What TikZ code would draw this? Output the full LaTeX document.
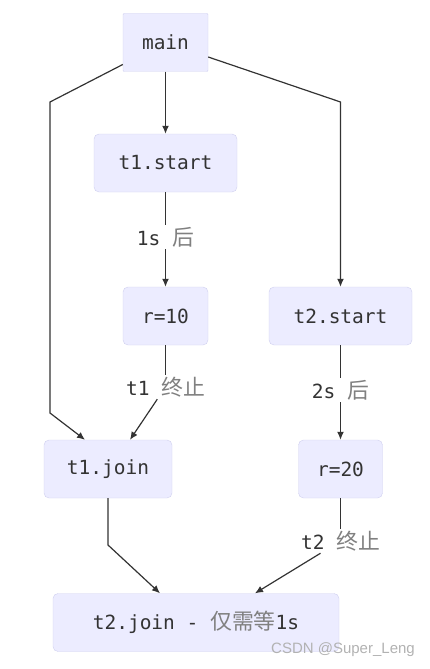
\documentclass[tikz,border=0pt]{standalone}
\usepackage{fontspec}
\setmonofont{DejaVu Sans Mono}
\newfontfamily\cjk[Scale=1.12]{Noto Sans CJK SC}
\newfontfamily\wmfont{Liberation Sans}
\usepackage{tikz}
\usetikzlibrary{positioning}
\usetikzlibrary{arrows.meta}
\usepackage{xcolor}
\definecolor{boxfill}{HTML}{ECECFF}
\definecolor{boxline}{HTML}{CFCFEF}
\definecolor{ink}{HTML}{333333}
\definecolor{zhgray}{HTML}{808080}
\newcommand{\zh}[1]{{\cjk\color{zhgray}#1}}

\begin{document}
\begin{tikzpicture}[
    x=1pt, y=-1pt,
    font=\ttfamily\fontsize{19.5}{23}\selectfont,
    box/.style={rectangle, draw=boxline, fill=boxfill, rounded corners=5pt, text=ink, minimum height=58pt},
    lbl/.style={fill=white, text=ink, inner sep=2pt},
    arrow/.style={-{Latex[length=8pt,width=7pt]}, draw=ink, line width=1.2pt},
    link/.style={draw=ink, line width=1.2pt}
]
    \useasboundingbox (0,0) rectangle (430,669);

    % Nodes
    \node[box, rounded corners=1pt, minimum width=85pt] (main) at (165.5,42.5) {main};
    \node[box, minimum width=143pt] (t1start) at (165.5,163) {t1.start};
    \node[box, minimum width=85pt] (r10) at (165.5,316) {r=10};
    \node[box, minimum width=143pt] (t2start) at (340.5,316) {t2.start};
    \node[box, minimum width=128pt] (t1join) at (108,469) {t1.join};
    \node[box, minimum width=84pt] (r20) at (340.5,469) {r=20};
    \node[box, minimum width=286pt] (t2join) at (196,622.5) {t2.join - \zh{仅需等}1s};

    % Edge labels
    \node[lbl] (l1s) at (165.5,237) {1s \zh{后}};
    \node[lbl] (lt1) at (165.5,387) {t1 \zh{终止}};
    \node[lbl] (l2s) at (340.5,390) {2s \zh{后}};
    \node[lbl] (lt2) at (340.5,541) {t2 \zh{终止}};

    % Bends
    \coordinate (bendA) at (50,102);
    \coordinate (bendB) at (50,413);
    \coordinate (bendC) at (340.5,102);
    \coordinate (bendD) at (108,545);

    % Edges
    \draw[arrow] (main) -- (t1start);
    \draw[arrow] (main) -- (bendA) -- (bendB) -- ([xshift=-23pt]t1join.north);
    \draw[arrow] (main) -- (bendC) -- (t2start);

    \draw[link] (t1start) -- (l1s);
    \draw[arrow] (l1s) -- (r10);

    \draw[link] (r10) -- (lt1);
    \draw[arrow] (lt1) -- ([xshift=22pt]t1join.north);

    \draw[link] (t2start) -- (l2s);
    \draw[arrow] (l2s) -- (r20);

    \draw[arrow] (t1join) -- (bendD) -- ([xshift=-36pt]t2join.north);
    \draw[link] (r20) -- (lt2);
    \draw[arrow] (lt2) -- ([xshift=59pt]t2join.north);

    % Watermark
    \node[text=black!30, font=\wmfont\fontsize{15}{17}\selectfont] (mark) at (343,650) {CSDN @Super\_Leng};
\end{tikzpicture}
\end{document}
